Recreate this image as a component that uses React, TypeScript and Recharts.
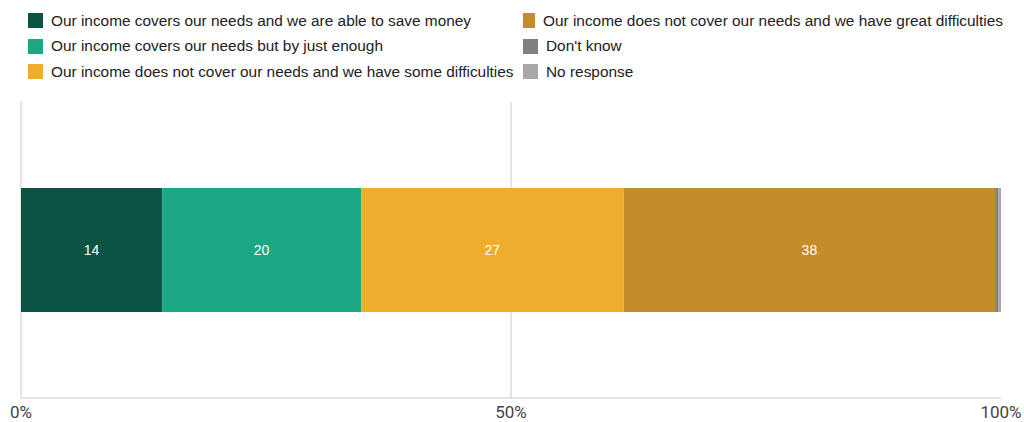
import { BarChart, Bar, XAxis, YAxis, CartesianGrid, LabelList } from 'recharts';

const categories = ['Household income'];
const seriesNames = [
  'Our income covers our needs and we are able to save money',
  'Our income covers our needs but by just enough',
  'Our income does not cover our needs and we have some difficulties',
  'Our income does not cover our needs and we have great difficulties',
  "Don't know",
  'No response',
];
const seriesValues = [14.4, 20.3, 26.8, 37.9, 0.35, 0.25];
const seriesColors = ['#0d5343', '#1ca884', '#efad2d', '#c48d29', '#808080', '#a8a8a8'];
const xTicks = [0, 0.5, 1];
const xTickLabels = ['0%', '50%', '100%'];
const gridValues = [0, 0.5];

const data = categories.map((name) => {
  const row: Record<string, any> = { name };
  seriesNames.forEach((s, i) => {
    row['s' + i] = seriesValues[i];
  });
  return row;
});

// legend sits above the plot, two columns filled top to bottom
const LegendBox = () => (
  <div
    style={{
      position: 'absolute',
      left: 28,
      top: 8,
      display: 'grid',
      gridTemplateRows: 'repeat(3, 25.5px)',
      gridTemplateColumns: '495px 480px',
      gridAutoFlow: 'column',
      fontFamily: '"Liberation Sans", Arial, sans-serif',
      fontSize: 15.4,
      color: '#222',
    }}
  >
    {seriesNames.map((s, i) => (
      <div key={s} style={{ display: 'flex', alignItems: 'center', whiteSpace: 'nowrap' }}>
        <span
          style={{
            display: 'inline-block',
            width: 15,
            height: 15,
            background: seriesColors[i],
            marginRight: 8,
          }}
        />
        <span>{s}</span>
      </div>
    ))}
  </div>
);

export default function App() {
  return (
    <div style={{ position: 'absolute', left: 0, top: 0, width: 1024, height: 422, background: '#fff' }}>
      <BarChart
        width={1024}
        height={422}
        data={data}
        layout="vertical"
        stackOffset="expand"
        barSize={124}
        margin={{ top: 102, right: 23, bottom: 0, left: 21 }}
      >
        <CartesianGrid horizontal={false} verticalValues={gridValues} stroke="#cccccc" />
        <XAxis
          type="number"
          domain={[0, 1]}
          ticks={xTicks}
          tickFormatter={(v: number) => xTickLabels[xTicks.indexOf(v)]}
          tickLine={false}
          axisLine={{ stroke: '#cccccc' }}
          height={24}
          interval={0}
          tick={{ fill: '#444', fontSize: 17, fontFamily: 'Roboto, sans-serif' }}
        />
        <YAxis type="category" dataKey="name" hide />
        {seriesNames.map((s, i) => (
          <Bar key={s} dataKey={'s' + i} name={s} stackId="a" fill={seriesColors[i]} isAnimationActive={false}>
            <LabelList
              dataKey={'s' + i}
              position="center"
              fill="#ffffff"
              fontSize={14}
              fontFamily='"Liberation Sans", Arial, sans-serif'
              formatter={(v: any) => (Number(v) >= 1 ? Math.round(Number(v)) : '')}
            />
          </Bar>
        ))}
      </BarChart>
      <LegendBox />
    </div>
  );
}
